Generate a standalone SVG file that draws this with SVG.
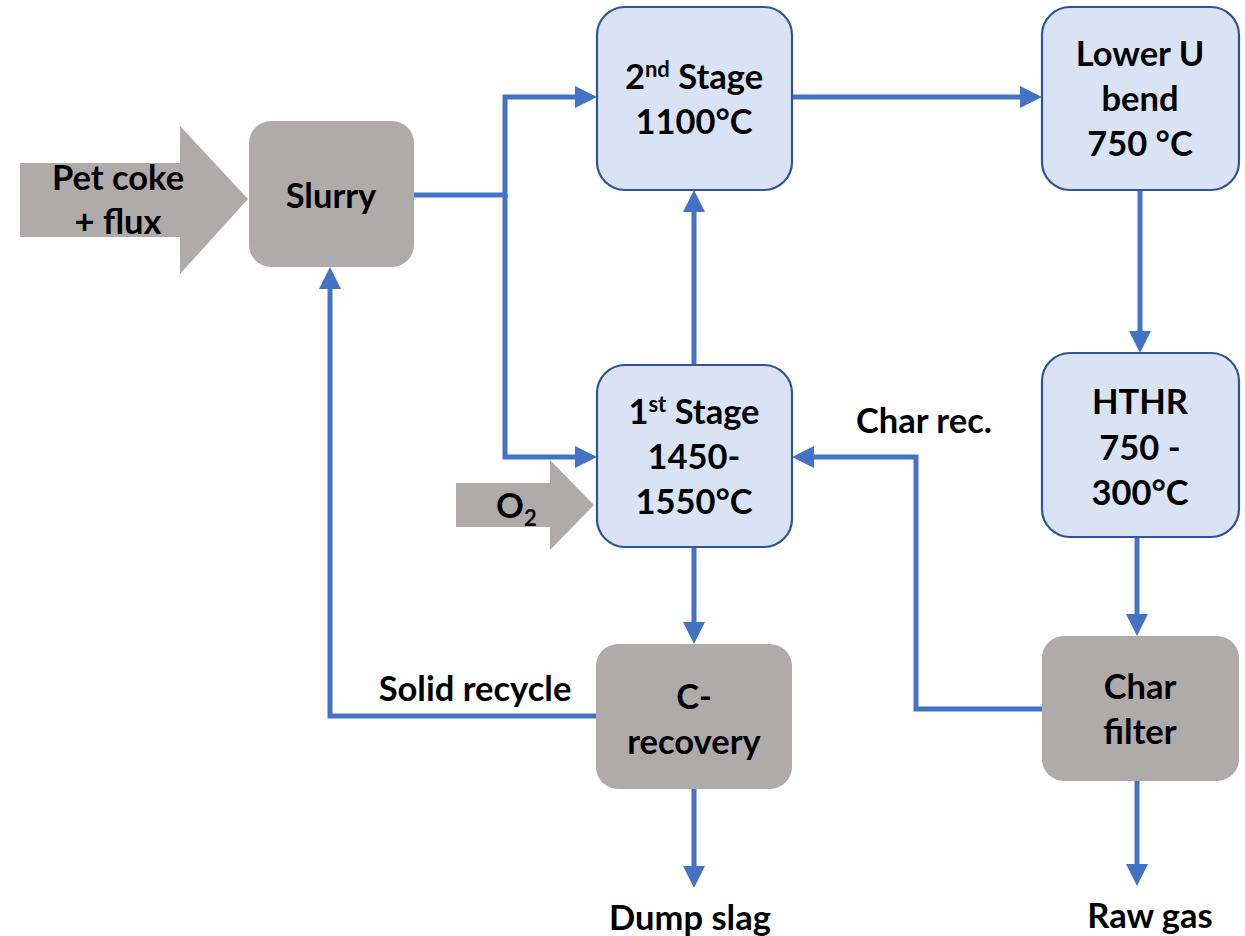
<svg xmlns="http://www.w3.org/2000/svg" width="1245" height="936" viewBox="0 0 1245 936">
<style>
text{font-family:Lato,"Open Sans","Liberation Sans",sans-serif;font-weight:bold;font-size:34.5px;fill:#000;text-anchor:middle}
.blue{fill:#DAE3F3;stroke:#2F5597;stroke-width:2.2}
.gray{fill:#AFABAB}
.conn{fill:none;stroke:#4472C4;stroke-width:5;marker-end:url(#ah)}
.sup{font-size:22px}
</style>
<defs>
<marker id="ah" markerUnits="userSpaceOnUse" markerWidth="22" markerHeight="22" refX="12" refY="11" orient="auto">
<path d="M0,0 L22,11 L0,22 z" fill="#4472C4"/>
</marker>
</defs>
<rect width="1245" height="936" fill="#fff"/>
<g id="connectors">
<path class="conn" d="M414,195 H505 V97 H587"/>
<path class="conn" d="M505,195 V457 H587"/>
<path class="conn" d="M792,97 H1032"/>
<path class="conn" d="M694,365 V200"/>
<path class="conn" d="M1140,190 V343"/>
<path class="conn" d="M1137,537 V626"/>
<path class="conn" d="M1042,709 H916 V457 H802"/>
<path class="conn" d="M694,547 V634"/>
<path class="conn" d="M596,716 H330 V277"/>
<path class="conn" d="M694,789 V878"/>
<path class="conn" d="M1137,781 V876"/>
</g>
<g id="petcoke">
<path class="gray" d="M20,163 H180 V126 L248,199 L180,274 V237 H20 z"/>
<text x="118" y="190">Pet coke</text>
<text x="118" y="234">+ flux</text>
</g>
<g id="o2">
<path class="gray" d="M456,483 H550 V460 L594,505 L550,550 V527 H456 z"/>
<text x="496" y="518" style="text-anchor:start">O<tspan class="sup" dy="8">2</tspan></text>
</g>
<g id="slurry">
<rect class="gray" x="249" y="121" width="165" height="146" rx="22"/>
<text x="331" y="208">Slurry</text>
</g>
<g id="stage2">
<rect class="blue" x="597" y="7" width="195" height="183" rx="28"/>
<text x="694" y="89">2<tspan class="sup" dy="-12">nd</tspan><tspan dy="12"> Stage</tspan></text>
<text x="694" y="134">1100°C</text>
</g>
<g id="loweru">
<rect class="blue" x="1042" y="7" width="197" height="183" rx="28"/>
<text x="1140" y="66">Lower U</text>
<text x="1140" y="111">bend</text>
<text x="1140" y="156">750 °C</text>
</g>
<g id="stage1">
<rect class="blue" x="597" y="365" width="195" height="182" rx="28"/>
<text x="694" y="424">1<tspan class="sup" dy="-12">st</tspan><tspan dy="12"> Stage</tspan></text>
<text x="694" y="469">1450-</text>
<text x="694" y="514">1550°C</text>
</g>
<g id="hthr">
<rect class="blue" x="1042" y="353" width="197" height="184" rx="28"/>
<text x="1140" y="414">HTHR</text>
<text x="1140" y="460">750 -</text>
<text x="1140" y="505">300°C</text>
</g>
<g id="crecovery">
<rect class="gray" x="596" y="644" width="196" height="145" rx="22"/>
<text x="694" y="709">C-</text>
<text x="694" y="754">recovery</text>
</g>
<g id="charfilter">
<rect class="gray" x="1042" y="636" width="197" height="145" rx="22"/>
<text x="1140" y="699">Char</text>
<text x="1140" y="744">filter</text>
</g>
<g id="labels">
<text x="475" y="701">Solid recycle</text>
<text x="924" y="433">Char rec.</text>
<text x="690" y="930">Dump slag</text>
<text x="1150" y="928">Raw gas</text>
</g>
</svg>
